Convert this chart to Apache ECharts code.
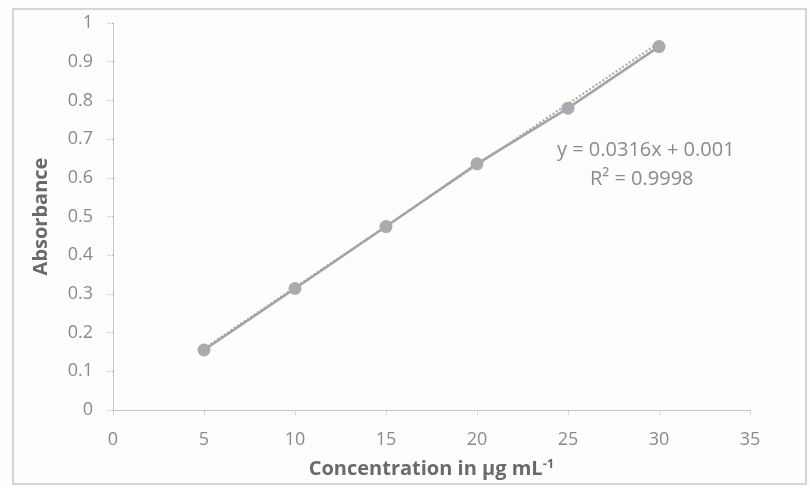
<!DOCTYPE html>
<html>
<head>
<meta charset="utf-8">
<script src="https://cdn.jsdelivr.net/npm/echarts@6/dist/echarts.min.js"></script>
<style>
  html, body { margin: 0; padding: 0; background: #fdfdfb; }
  #chart { width: 810px; height: 488px; }
</style>
</head>
<body>
<div id="chart"></div>
<script>
// calibration data
var concentration = [5, 10, 15, 20, 25, 30];
var absorbance = [0.155, 0.314, 0.474, 0.636, 0.780, 0.939];
var yTicks = [0, 0.1, 0.2, 0.3, 0.4, 0.5, 0.6, 0.7, 0.8, 0.9, 1];
var xTicks = [0, 5, 10, 15, 20, 25, 30, 35];
// linear fit reported on the chart
var slope = 0.0316;
var intercept = 0.001;

var chart = echarts.init(document.getElementById('chart'));

var points = concentration.map(function (c, i) { return [c, absorbance[i]]; });
var xFirst = concentration[0], xLast = concentration[concentration.length - 1];
var trend = [[xFirst, slope * xFirst + intercept], [xLast, slope * xLast + intercept]];

var labelColor = '#8a8a8a';
var titleColor = '#6a6a6a';
var axisLine = { show: true, lineStyle: { color: '#b8b8c0', type: 'dotted', width: 1 } };

var option = {
	backgroundColor: '#fdfdfb',
	animation: false,
	graphic: [
		{ type: 'rect', shape: { x: 13, y: 9, width: 793, height: 475 },
		  style: { fill: 'none', stroke: '#c8c6cf', lineWidth: 1.5 } },
		{ type: 'text', left: 557, top: 140,
		  style: { text: 'y = 0.0316x + 0.001', fill: labelColor, font: '20px "Open Sans"' } },
		{ type: 'text', left: 590, top: 169,
		  style: { text: 'R² = 0.9998', fill: labelColor, font: '20px "Open Sans"' } }
	],
	grid: { left: 113, right: 60, top: 23, bottom: 78, outerBoundsMode: 'none' },
	xAxis: {
		type: 'value', min: 0, max: 35, interval: 5,
		name: '{n|Concentration in μg mL}{s|-1}',
		nameLocation: 'middle', nameGap: 48,
		nameTextStyle: {
			rich: {
				n: { fontFamily: 'Open Sans', fontWeight: 'bold', fontSize: 20, color: titleColor },
				s: { fontFamily: 'Open Sans', fontWeight: 'bold', fontSize: 13, color: titleColor, verticalAlign: 'top', padding: [0, 0, 9, 0] }
			}
		},
		axisLine: axisLine,
		axisTick: { show: true, length: 5, lineStyle: { color: '#b8b8c0', type: 'dotted' } },
		axisLabel: { color: labelColor, fontFamily: 'Open Sans', fontSize: 18, margin: 21 },
		splitLine: { show: false }
	},
	yAxis: {
		type: 'value', min: 0, max: 1, interval: 0.1,
		name: 'Absorbance', nameLocation: 'middle', nameGap: 62,
		nameTextStyle: { fontFamily: 'Open Sans', fontWeight: 'bold', fontSize: 20, color: titleColor },
		axisLine: axisLine,
		axisTick: { show: true, length: 5, lineStyle: { color: '#b8b8c0', type: 'dotted' } },
		axisLabel: {
			color: labelColor, fontFamily: 'Open Sans', fontSize: 18, margin: 20,
			formatter: function (v) { return yTicks.indexOf(Math.round(v * 10) / 10) >= 0 ? String(Math.round(v * 10) / 10) : ''; }
		},
		splitLine: { show: false }
	},
	series: [
		{
			type: 'line', data: trend, symbol: 'none',
			lineStyle: { color: '#a8a8ac', width: 2, type: [2, 2] }, z: 2
		},
		{
			type: 'line', data: points, symbol: 'circle', symbolSize: 13,
			itemStyle: { color: '#ababaf' },
			lineStyle: { color: '#a4a4a8', width: 2.5 }, z: 3
		}
	]
};
chart.setOption(option);
</script>
</body>
</html>
